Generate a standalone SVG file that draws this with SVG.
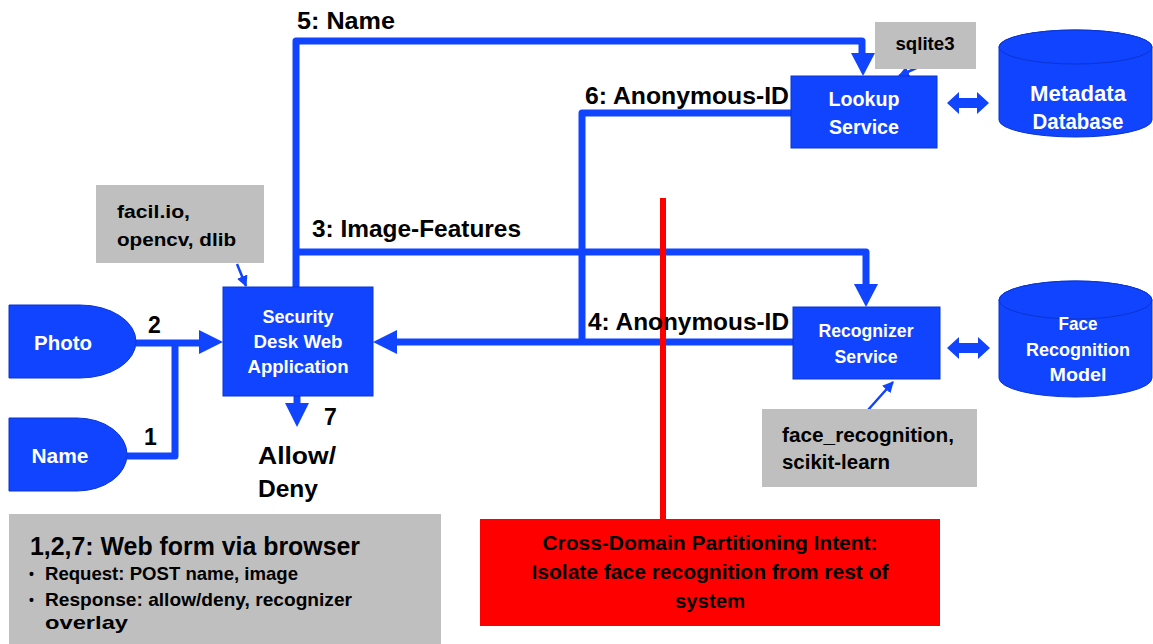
<svg xmlns="http://www.w3.org/2000/svg" width="1153" height="644" viewBox="0 0 1153 644">
  <style>
    text { font-family: "Liberation Sans", Arial, sans-serif; font-weight: bold; }
    .wt { fill: #ffffff; text-anchor: middle; }
    .bk { fill: #000000; }
    .node { fill: #1144ff; stroke: #0a35d0; stroke-width: 1; }
    .note { fill: #bfbfbf; }
    .flow { fill: none; stroke: #1144ff; stroke-width: 7; stroke-linejoin: round; }
    .head { fill: #1144ff; }
    .thin { fill: none; stroke: #1144ff; stroke-width: 2.5; marker-end: url(#tip); }
  </style>
  <defs>
    <marker id="tip" viewBox="0 0 10 10" refX="9" refY="5" markerWidth="4.5" markerHeight="4.5" orient="auto">
      <path d="M0,0 L10,5 L0,10 Z" fill="#1144ff"/>
    </marker>
  </defs>

  <rect width="1153" height="644" fill="#ffffff"/>

  <!-- connectors -->
  <g id="connectors">
    <!-- 2: photo into web app -->
    <path class="flow" d="M136,343 H202"/>
    <polygon class="head" points="199,330 223,342 199,354"/>
    <!-- 1: name joins photo line -->
    <path class="flow" d="M127,456 H175 V343"/>
    <!-- 7: allow/deny out -->
    <path class="flow" d="M297,396 V405"/>
    <polygon class="head" points="285,403 309,403 297,427"/>
    <!-- 5: name to lookup -->
    <path class="flow" d="M296,287 V41 H862 V56"/>
    <polygon class="head" points="851,53 875,53 863,76"/>
    <!-- 3: image features to recognizer -->
    <path class="flow" d="M296,252 H866 V287"/>
    <polygon class="head" points="854,284 878,284 866,307"/>
    <!-- 6: anonymous id from lookup -->
    <path class="flow" d="M791,113 H582 V342"/>
    <!-- 4: anonymous id from recognizer back to web app -->
    <path class="flow" d="M793,342 H394"/>
    <polygon class="head" points="397,330 373,342 397,354"/>
    <!-- database links -->
    <polygon class="head" points="947,103 959,92 959,98 977,98 977,92 989,103 977,114 977,108 959,108 959,114"/>
    <polygon class="head" points="947,348 959,337 959,343 978,343 978,337 990,348 978,359 978,353 959,353 959,359"/>
    <!-- library annotations -->
    <path class="thin" d="M237,264 L246,286"/>
    <path class="thin" d="M927,63 L899,76"/>
    <path class="thin" d="M868,410 L893,382"/>
    <!-- partition boundary -->
    <path d="M663,198 V519" stroke="#ff0000" stroke-width="6" fill="none"/>
  </g>

  <!-- flow labels -->
  <g id="labels">
    <text class="bk" x="297" y="29" font-size="23" textLength="98" lengthAdjust="spacingAndGlyphs">5: Name</text>
    <text class="bk" x="585" y="104" font-size="23" textLength="204" lengthAdjust="spacingAndGlyphs">6: Anonymous-ID</text>
    <text class="bk" x="312" y="237" font-size="23" textLength="209" lengthAdjust="spacingAndGlyphs">3: Image-Features</text>
    <text class="bk" x="588" y="330" font-size="23" textLength="201" lengthAdjust="spacingAndGlyphs">4: Anonymous-ID</text>
    <text class="bk" x="148" y="333" font-size="23">2</text>
    <text class="bk" x="144" y="445" font-size="23">1</text>
    <text class="bk" x="324" y="425" font-size="23">7</text>
    <text class="bk" x="258" y="464" font-size="24" textLength="78" lengthAdjust="spacingAndGlyphs">Allow/</text>
    <text class="bk" x="258" y="497" font-size="24" textLength="60" lengthAdjust="spacingAndGlyphs">Deny</text>
  </g>

  <g id="photo">
    <path class="node" d="M9,305 H80 A56,36.5 0 0 1 80,378 H9 Z"/>
    <text class="wt" x="63" y="350" font-size="20" textLength="58" lengthAdjust="spacingAndGlyphs">Photo</text>
  </g>

  <g id="name">
    <path class="node" d="M9,418 H77 A50,36.5 0 0 1 77,491 H9 Z"/>
    <text class="wt" x="60" y="463" font-size="20" textLength="57" lengthAdjust="spacingAndGlyphs">Name</text>
  </g>

  <g id="web-app">
    <rect class="node" x="223" y="287" width="150" height="109"/>
    <text class="wt" x="298" y="323" font-size="19" textLength="71" lengthAdjust="spacingAndGlyphs">Security</text>
    <text class="wt" x="298" y="348" font-size="19" textLength="89" lengthAdjust="spacingAndGlyphs">Desk Web</text>
    <text class="wt" x="298" y="373" font-size="19" textLength="101" lengthAdjust="spacingAndGlyphs">Application</text>
  </g>

  <g id="web-libs">
    <rect class="note" x="96" y="185" width="168" height="78"/>
    <text class="bk" x="117" y="218" font-size="19" textLength="73" lengthAdjust="spacingAndGlyphs">facil.io,</text>
    <text class="bk" x="117" y="246" font-size="19" textLength="119" lengthAdjust="spacingAndGlyphs">opencv, dlib</text>
  </g>

  <g id="lookup">
    <rect class="node" x="791" y="76" width="146" height="72"/>
    <text class="wt" x="864" y="106" font-size="20" textLength="71" lengthAdjust="spacingAndGlyphs">Lookup</text>
    <text class="wt" x="864" y="134" font-size="20" textLength="70" lengthAdjust="spacingAndGlyphs">Service</text>
  </g>

  <g id="sqlite">
    <rect class="note" x="875" y="22" width="101" height="47"/>
    <text class="bk" x="925" y="50" font-size="18" text-anchor="middle" textLength="59" lengthAdjust="spacingAndGlyphs">sqlite3</text>
  </g>

  <g id="metadata-db">
    <path class="node" d="M999,47 A76.5,17 0 0 1 1152,47 V120 A76.5,17 0 0 1 999,120 Z"/>
    <ellipse class="node" cx="1075.5" cy="47" rx="76.5" ry="17"/>
    <text class="wt" x="1078" y="101" font-size="22" textLength="96" lengthAdjust="spacingAndGlyphs">Metadata</text>
    <text class="wt" x="1078" y="129" font-size="22" textLength="91" lengthAdjust="spacingAndGlyphs">Database</text>
  </g>

  <g id="recognizer">
    <rect class="node" x="793" y="307" width="147" height="72"/>
    <text class="wt" x="866" y="337" font-size="19" textLength="95" lengthAdjust="spacingAndGlyphs">Recognizer</text>
    <text class="wt" x="866" y="363" font-size="19" textLength="63" lengthAdjust="spacingAndGlyphs">Service</text>
  </g>

  <g id="recognizer-libs">
    <rect class="note" x="762" y="409" width="215" height="78"/>
    <text class="bk" x="782" y="442" font-size="20" textLength="172" lengthAdjust="spacingAndGlyphs">face_recognition,</text>
    <text class="bk" x="782" y="469" font-size="20" textLength="108" lengthAdjust="spacingAndGlyphs">scikit-learn</text>
  </g>

  <g id="face-model">
    <path class="node" d="M999,300 A76.5,19 0 0 1 1152,300 V378 A76.5,19 0 0 1 999,378 Z"/>
    <ellipse class="node" cx="1075.5" cy="300" rx="76.5" ry="19"/>
    <text class="wt" x="1078" y="330" font-size="19" textLength="39" lengthAdjust="spacingAndGlyphs">Face</text>
    <text class="wt" x="1078" y="356" font-size="19" textLength="104" lengthAdjust="spacingAndGlyphs">Recognition</text>
    <text class="wt" x="1078" y="381" font-size="19" textLength="57" lengthAdjust="spacingAndGlyphs">Model</text>
  </g>

  <g id="web-form-note">
    <rect class="note" x="9" y="514" width="432" height="130"/>
    <text class="bk" x="30" y="555" font-size="26" textLength="330" lengthAdjust="spacingAndGlyphs">1,2,7: Web form via browser</text>
    <text class="bk" x="29" y="579" font-size="14">•</text>
    <text class="bk" x="45" y="580" font-size="19" textLength="253" lengthAdjust="spacingAndGlyphs">Request: POST name, image</text>
    <text class="bk" x="29" y="605" font-size="14">•</text>
    <text class="bk" x="45" y="606" font-size="19" textLength="307" lengthAdjust="spacingAndGlyphs">Response: allow/deny, recognizer</text>
    <text class="bk" x="45" y="629" font-size="19" textLength="83" lengthAdjust="spacingAndGlyphs">overlay</text>
  </g>

  <g id="partition-intent">
    <rect x="480" y="519" width="460" height="107" fill="#ff0000"/>
    <text class="bk" x="710" y="550" font-size="21" text-anchor="middle" textLength="335" lengthAdjust="spacingAndGlyphs">Cross-Domain Partitioning Intent:</text>
    <text class="bk" x="710" y="579" font-size="21" text-anchor="middle" textLength="357" lengthAdjust="spacingAndGlyphs">Isolate face recognition from rest of</text>
    <text class="bk" x="710" y="608" font-size="21" text-anchor="middle" textLength="70" lengthAdjust="spacingAndGlyphs">system</text>
  </g>
</svg>
